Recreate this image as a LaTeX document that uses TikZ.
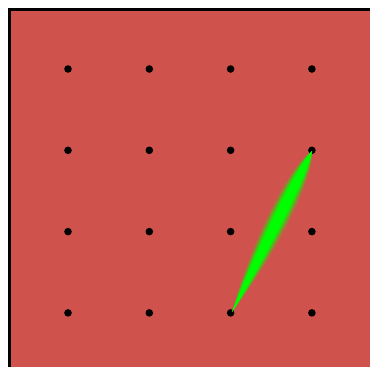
\documentclass[tikz,border=0pt]{standalone}
\usetikzlibrary{calc}
\definecolor{boardred}{RGB}{207,82,76}
\definecolor{glowgreen}{RGB}{0,255,0}
\begin{document}
\begin{tikzpicture}[x=1pt, y=-1pt]
    % 1. Khung hình
    \useasboundingbox (0,0) rectangle (370,367);
    \clip (0,0) rectangle (370,367);

    % 2. Tấm nền đỏ viền đen
    \draw[line width=3.5pt, fill=boardred] (9.5,9.5) rectangle (375,368.5);

    % 3. Lưới điểm 4x4
    \foreach \i in {0,...,3} {
        \foreach \j in {0,...,3} {
            \fill[black] ({68+81.3*\i}, {69+81.3*\j}) circle (3.8pt);
        }
    }

    % 4. Nét xanh phát sáng
    \coordinate (tail) at (232,312);
    \coordinate (tip) at (312,151);
    \foreach \d/\op in {14/0.2, 12/0.25, 10/0.35, 8.5/0.5, 7/0.8, 5.5/1} {
        \fill[glowgreen, opacity=\op]
            (tail) .. controls ($(tail)!0.4!(tip) + (0.896*\d, 0.443*\d)$)
                        and ($(tail)!0.88!(tip) + (0.896*\d, 0.443*\d)$) .. (tip)
                   .. controls ($(tail)!0.88!(tip) - (0.896*\d, 0.443*\d)$)
                        and ($(tail)!0.4!(tip) - (0.896*\d, 0.443*\d)$) .. (tail) -- cycle;
    }
\end{tikzpicture}
\end{document}
